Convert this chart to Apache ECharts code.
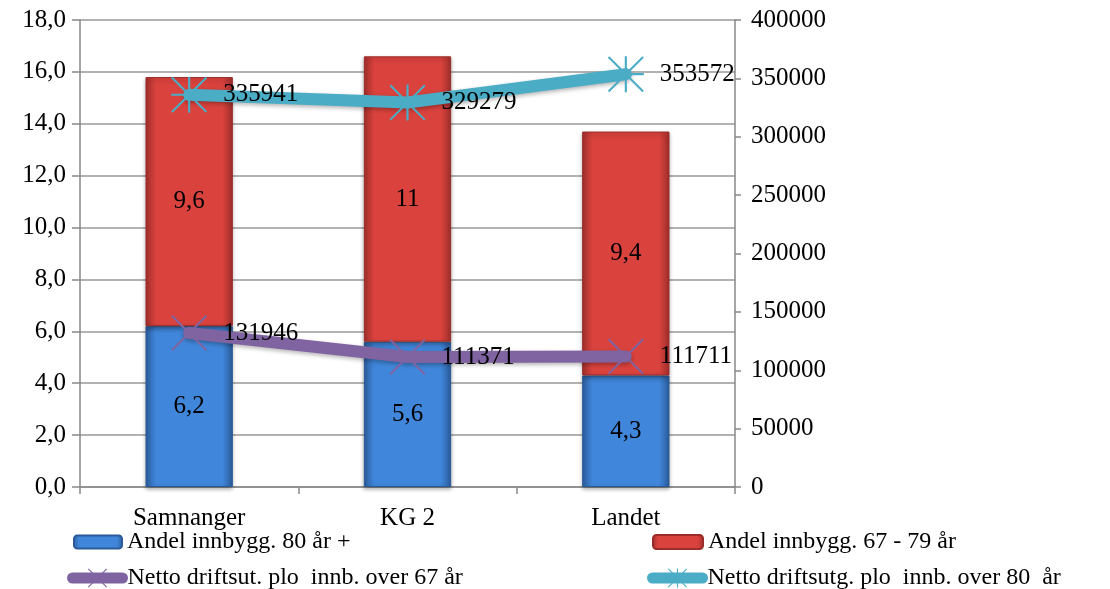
<!DOCTYPE html>
<html>
<head>
<meta charset="utf-8">
<script src="https://cdn.jsdelivr.net/npm/echarts@6/dist/echarts.min.js"></script>
<style>
  html, body { margin: 0; padding: 0; background: #fff; }
  #chart { width: 1110px; height: 589px; }
</style>
</head>
<body>
<div id="chart"></div>
<script>
// data
const categories = ["Samnanger", "KG 2", "Landet"];
const andel80 = [6.2, 5.6, 4.3];
const andel6779 = [9.6, 11, 9.4];
const netto67 = [131946, 111371, 111711];
const netto80 = [335941, 329279, 353572];

const seriesNames = [
  "Andel innbygg. 80 år +",
  "Andel innbygg. 67 - 79 år",
  "Netto driftsut. plo  innb. over 67 år",
  "Netto driftsutg. plo  innb. over 80  år"
];

const FONT = "'Liberation Serif', 'Times New Roman', serif";

// asterisk markers (thin filled bars)
const starPath = "path://M9.4 0L10.6 0L10.6 20L9.4 20Z M0 9.4L20 9.4L20 10.6L0 10.6Z M0.8 0L20 19.2L19.2 20L0 0.8Z M19.2 0L20 0.8L0.8 20L0 19.2Z";
const crossPath = "path://M0.8 0L20 19.2L19.2 20L0 0.8Z M19.2 0L20 0.8L0.8 20L0 19.2Z";

const chart = echarts.init(document.getElementById("chart"));

function barColor(edge, mid) {
  return new echarts.graphic.LinearGradient(0, 0, 1, 0, [
    { offset: 0, color: edge },
    { offset: 0.12, color: mid },
    { offset: 0.88, color: mid },
    { offset: 1, color: edge }
  ]);
}

const commaFmt = function (p) {
  return String(p.value).replace(".", ",");
};

function legendItem(name, left, top, w, h, isLine) {
  const l = {
    data: [name],
    left: left,
    top: top,
    itemWidth: w,
    itemHeight: h,
    itemGap: 0,
    padding: 0,
    textStyle: { fontFamily: FONT, fontSize: 24, color: "#000" }
  };
  if (isLine) {
    l.lineStyle = { width: 11, cap: "round", shadowBlur: 0 };
  }
  return l;
}

const option = {
  animation: false,
  grid: { left: 80, right: 375, top: 20, bottom: 102 },
  legend: [
    legendItem(seriesNames[0], 73, 530, 48, 13, false),
    legendItem(seriesNames[1], 652, 530, 50, 14, false),
    legendItem(seriesNames[2], 67, 566, 50, 24, true),
    legendItem(seriesNames[3], 647, 566, 50, 24, true)
  ],
  xAxis: {
    type: "category",
    data: categories,
    axisLine: { lineStyle: { color: "#888", width: 1.5 } },
    axisTick: { show: true, length: 7, lineStyle: { color: "#888", width: 1.5 } },
    axisLabel: { fontFamily: FONT, fontSize: 25, color: "#000", margin: 19 }
  },
  yAxis: [
    {
      type: "value",
      min: 0,
      max: 18,
      interval: 2,
      axisLine: { show: true, lineStyle: { color: "#888", width: 1.5 } },
      axisTick: { show: true, length: 8, lineStyle: { color: "#888", width: 1.5 } },
      axisLabel: {
        fontFamily: FONT, fontSize: 25, color: "#000", margin: 14,
        formatter: function (v) { return v.toFixed(1).replace(".", ","); }
      },
      splitLine: { lineStyle: { color: "#999", width: 1.5 } }
    },
    {
      type: "value",
      min: 0,
      max: 400000,
      interval: 50000,
      position: "right",
      axisLine: { show: true, lineStyle: { color: "#888", width: 1.5 } },
      axisTick: { show: true, length: 6, lineStyle: { color: "#888", width: 1.5 } },
      axisLabel: {
        fontFamily: FONT, fontSize: 25, color: "#000", margin: 16,
        formatter: function (v) { return String(v); }
      },
      splitLine: { show: false }
    }
  ],
  series: [
    {
      name: seriesNames[0],
      type: "bar",
      stack: "andel",
      barWidth: "40%",
      data: andel80,
      itemStyle: {
        color: barColor("#2c5d9e", "#4086da"),
        borderColor: "#2a5a98",
        borderWidth: 1,
        shadowBlur: 4,
        shadowColor: "rgba(0,0,0,0.3)",
        shadowOffsetY: 2
      },
      label: {
        show: true, position: "inside", formatter: commaFmt,
        fontFamily: FONT, fontSize: 25, color: "#000"
      }
    },
    {
      name: seriesNames[1],
      type: "bar",
      stack: "andel",
      barWidth: "40%",
      data: andel6779,
      itemStyle: {
        color: barColor("#a32f2c", "#d9423d"),
        borderColor: "#9a2c29",
        borderWidth: 1,
        shadowBlur: 4,
        shadowColor: "rgba(0,0,0,0.3)",
        shadowOffsetY: 2
      },
      label: {
        show: true, position: "inside", formatter: commaFmt,
        fontFamily: FONT, fontSize: 25, color: "#000"
      }
    },
    {
      name: seriesNames[2],
      type: "line",
      yAxisIndex: 1,
      data: netto67,
      z: 5,
      symbol: crossPath,
      symbolSize: 36,
      itemStyle: { color: "#8064a2" },
      lineStyle: {
        color: "#8064a2", width: 12, cap: "round", join: "round",
        shadowBlur: 4, shadowColor: "rgba(0,0,0,0.3)", shadowOffsetY: 2
      },
      label: {
        show: true, position: "right", distance: 16,
        fontFamily: FONT, fontSize: 25, color: "#000"
      }
    },
    {
      name: seriesNames[3],
      type: "line",
      yAxisIndex: 1,
      data: netto80,
      z: 5,
      symbol: starPath,
      symbolSize: 36,
      itemStyle: { color: "#4bacc6" },
      lineStyle: {
        color: "#4bacc6", width: 12, cap: "round", join: "round",
        shadowBlur: 4, shadowColor: "rgba(0,0,0,0.3)", shadowOffsetY: 2
      },
      label: {
        show: true, position: "right", distance: 16,
        fontFamily: FONT, fontSize: 25, color: "#000"
      }
    }
  ]
};

chart.setOption(option);
</script>
</body>
</html>
